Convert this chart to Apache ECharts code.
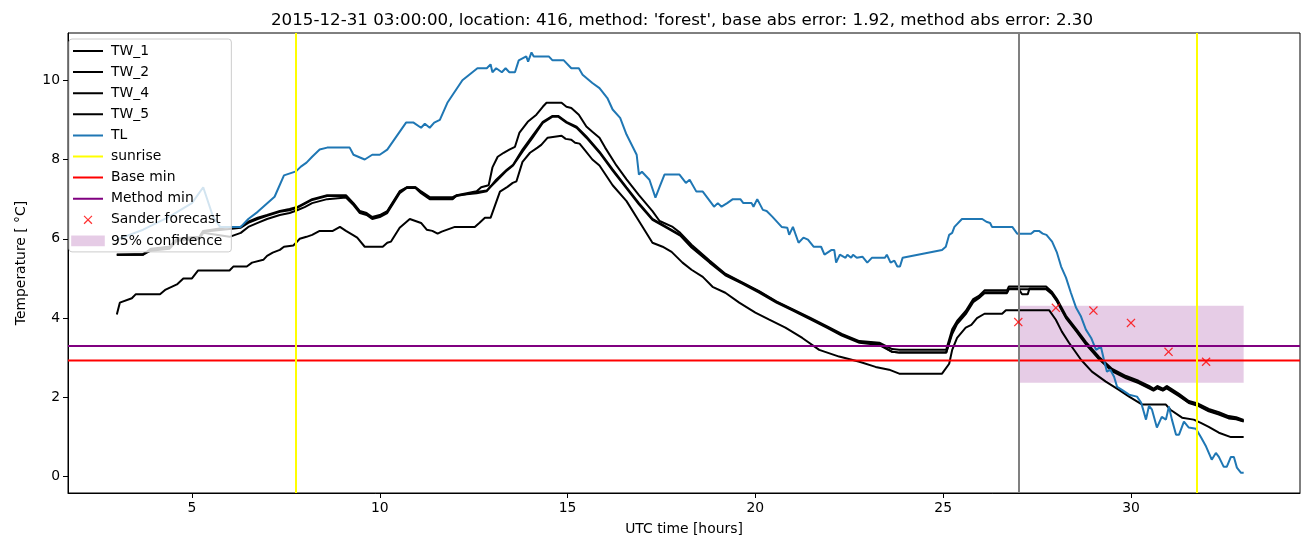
<!DOCTYPE html>
<html>
<head>
<meta charset="utf-8">
<script src="https://cdn.jsdelivr.net/npm/echarts@6/dist/echarts.min.js"></script>
<style>
  body { margin: 0; background: #fff; }
  #chart { width: 1310px; height: 547px; }
</style>
</head>
<body>
<div id="chart"></div>
<script>
// hours since 2015-12-31 00:00 UTC, temperature in deg C
const tw1 = [[3,5.6],[3.7,5.6],[3.9,5.75],[4.4,5.8],[4.6,6.0],[5.2,6.05],[5.3,6.2],[6.0,6.3],[6.3,6.3],[6.5,6.43],[6.75,6.53],[7.0,6.6],[7.34,6.7],[7.6,6.75],[7.8,6.8],[8.0,6.9],[8.2,7.0],[8.6,7.1],[9.1,7.1],[9.3,6.9],[9.47,6.7],[9.65,6.65],[9.8,6.55],[10.0,6.6],[10.2,6.7],[10.53,7.2],[10.72,7.3],[10.95,7.3],[11.1,7.2],[11.33,7.05],[11.94,7.05],[12.05,7.1],[12.58,7.2],[12.7,7.3],[12.9,7.35],[13.0,7.8],[13.14,8.07],[13.3,8.17],[13.45,8.25],[13.6,8.32],[13.72,8.68],[13.94,8.95],[14.17,9.13],[14.34,9.33],[14.44,9.43],[14.84,9.43],[14.97,9.33],[15.1,9.3],[15.3,9.13],[15.5,8.83],[15.66,8.7],[15.85,8.55],[16.0,8.3],[16.3,7.85],[16.57,7.5],[16.9,7.1],[17.26,6.7],[17.45,6.45],[17.8,6.3],[18.0,6.15],[18.3,5.85],[18.78,5.45],[19.2,5.12],[19.65,4.9],[20.1,4.68],[20.56,4.42],[21.0,4.22],[21.44,4.02],[21.9,3.8],[22.3,3.6],[22.77,3.42],[23.3,3.38],[23.64,3.22],[23.83,3.2],[25.08,3.2],[25.24,3.72],[25.37,3.93],[25.6,4.18],[25.8,4.48],[25.95,4.56],[26.1,4.7],[26.7,4.7],[26.75,4.8],[27.74,4.8],[27.9,4.66],[28.03,4.48],[28.27,4.06],[28.54,3.73],[28.8,3.4],[29.15,3.02],[29.5,2.72],[29.87,2.54],[30.2,2.42],[30.48,2.29],[30.6,2.22],[30.7,2.29],[30.85,2.22],[30.95,2.29],[31.0,2.26],[31.28,2.09],[31.54,1.91],[31.8,1.84],[32.07,1.71],[32.34,1.63],[32.6,1.53],[32.8,1.5],[33.0,1.43]];
const tw2 = [[3,5.6],[3.7,5.6],[3.9,5.7],[4.4,5.75],[4.6,5.95],[5.2,6.0],[5.3,6.15],[6.0,6.05],[6.3,6.15],[6.5,6.3],[6.75,6.4],[7.0,6.5],[7.34,6.6],[7.6,6.65],[7.8,6.72],[8.0,6.8],[8.2,6.9],[8.6,7.0],[9.1,7.04],[9.3,6.85],[9.47,6.65],[9.65,6.6],[9.8,6.5],[10.0,6.55],[10.2,6.65],[10.53,7.15],[10.72,7.28],[10.95,7.28],[11.1,7.15],[11.33,7.0],[11.94,7.0],[12.05,7.1],[12.58,7.15],[12.85,7.2],[13.1,7.49],[13.38,7.74],[13.55,7.87],[13.8,8.25],[14.07,8.6],[14.34,8.95],[14.6,9.1],[14.75,9.1],[14.97,8.95],[15.24,8.83],[15.5,8.58],[15.85,8.2],[16.2,7.75],[16.57,7.3],[16.9,6.9],[17.26,6.5],[17.63,6.3],[18.0,6.1],[18.3,5.8],[18.78,5.42],[19.2,5.1],[19.65,4.89],[20.1,4.67],[20.56,4.41],[21.0,4.21],[21.44,4.0],[21.9,3.78],[22.3,3.58],[22.77,3.4],[23.3,3.35],[23.64,3.15],[23.83,3.13],[25.08,3.13],[25.24,3.65],[25.37,3.88],[25.6,4.14],[25.8,4.44],[25.95,4.52],[26.1,4.65],[26.7,4.65],[26.75,4.75],[27.0,4.75],[27.1,4.6],[27.25,4.6],[27.3,4.75],[27.74,4.75],[27.9,4.62],[28.03,4.44],[28.27,4.02],[28.54,3.69],[28.8,3.36],[29.15,2.98],[29.5,2.68],[29.87,2.5],[30.2,2.38],[30.48,2.25],[30.6,2.18],[30.7,2.25],[30.85,2.18],[30.95,2.25],[31.0,2.22],[31.28,2.05],[31.54,1.87],[31.8,1.8],[32.07,1.67],[32.34,1.59],[32.6,1.49],[32.8,1.47],[33.0,1.4]];
const tw4 = [[3,5.6],[3.7,5.62],[3.9,5.72],[4.4,5.8],[4.6,5.98],[5.2,6.05],[5.3,6.18],[6.0,6.25],[6.3,6.28],[6.5,6.4],[6.75,6.5],[7.0,6.58],[7.34,6.68],[7.6,6.72],[7.8,6.78],[8.0,6.88],[8.2,6.98],[8.6,7.08],[9.1,7.08],[9.3,6.88],[9.47,6.68],[9.65,6.62],[9.8,6.52],[10.0,6.58],[10.2,6.68],[10.53,7.18],[10.72,7.3],[10.95,7.3],[11.1,7.18],[11.33,7.02],[11.94,7.02],[12.05,7.08],[12.58,7.18],[12.85,7.22],[13.1,7.45],[13.38,7.72],[13.55,7.85],[13.8,8.2],[14.07,8.55],[14.34,8.92],[14.6,9.08],[14.75,9.08],[14.97,8.93],[15.24,8.8],[15.5,8.55],[15.85,8.17],[16.2,7.72],[16.57,7.27],[16.9,6.87],[17.26,6.48],[17.63,6.28],[18.0,6.08],[18.3,5.78],[18.78,5.4],[19.2,5.08],[19.65,4.87],[20.1,4.64],[20.56,4.39],[21.0,4.19],[21.44,3.98],[21.9,3.76],[22.3,3.56],[22.77,3.38],[23.3,3.32],[23.64,3.15],[23.83,3.13],[25.08,3.13],[25.24,3.6],[25.37,3.85],[25.6,4.1],[25.8,4.4],[25.95,4.5],[26.1,4.63],[26.7,4.63],[26.75,4.73],[27.74,4.73],[27.9,4.6],[28.03,4.42],[28.27,4.0],[28.54,3.67],[28.8,3.34],[29.15,2.96],[29.5,2.66],[29.87,2.48],[30.2,2.36],[30.48,2.23],[30.6,2.17],[30.7,2.23],[30.85,2.17],[30.95,2.23],[31.0,2.2],[31.28,2.03],[31.54,1.86],[31.8,1.78],[32.07,1.65],[32.34,1.57],[32.6,1.47],[32.8,1.45],[33.0,1.39]];
const tw5 = [[3,4.09],[3.08,4.39],[3.4,4.5],[3.5,4.6],[4.15,4.6],[4.3,4.72],[4.6,4.85],[4.77,5.0],[5.0,5.0],[5.16,5.2],[6.0,5.2],[6.1,5.3],[6.46,5.3],[6.6,5.4],[6.9,5.47],[7.0,5.57],[7.15,5.65],[7.34,5.72],[7.45,5.8],[7.7,5.83],[7.8,5.93],[7.87,6.0],[8.05,6.05],[8.2,6.1],[8.4,6.2],[8.75,6.2],[8.94,6.3],[9.1,6.2],[9.28,6.1],[9.4,6.03],[9.6,5.8],[10.08,5.8],[10.2,5.9],[10.3,5.93],[10.53,6.28],[10.8,6.5],[11.1,6.4],[11.25,6.23],[11.4,6.2],[11.54,6.13],[11.65,6.18],[12.0,6.3],[12.53,6.3],[12.65,6.4],[12.8,6.53],[12.95,6.53],[13.2,7.19],[13.4,7.31],[13.54,7.41],[13.64,7.45],[13.8,7.94],[14.0,8.17],[14.2,8.3],[14.3,8.37],[14.47,8.55],[14.84,8.6],[14.95,8.52],[15.1,8.5],[15.2,8.42],[15.32,8.4],[15.45,8.25],[15.66,8.0],[15.85,7.85],[16.2,7.35],[16.57,6.95],[16.9,6.45],[17.26,5.9],[17.53,5.8],[17.77,5.67],[18.06,5.4],[18.3,5.22],[18.6,5.04],[18.86,4.79],[19.2,4.64],[19.57,4.39],[20.0,4.14],[20.37,3.96],[20.8,3.76],[21.25,3.5],[21.7,3.2],[22.23,3.03],[22.77,2.9],[23.2,2.77],[23.56,2.7],[23.83,2.6],[24.97,2.6],[25.16,2.85],[25.24,3.2],[25.37,3.5],[25.6,3.76],[25.75,3.83],[25.9,4.0],[26.1,4.11],[26.57,4.11],[26.67,4.2],[27.82,4.2],[28.0,3.96],[28.16,3.66],[28.35,3.38],[28.67,2.95],[28.96,2.65],[29.33,2.4],[29.68,2.19],[29.95,2.02],[30.3,1.82],[30.93,1.82],[31.05,1.69],[31.36,1.49],[31.67,1.44],[31.86,1.36],[32.07,1.26],[32.34,1.11],[32.66,1.0],[33.0,1.0]];
const tl = [[3.0,5.98],[3.7,6.23],[4.4,6.56],[5.0,6.9],[5.3,7.3],[5.56,6.56],[5.75,6.3],[6.3,6.3],[6.5,6.5],[6.75,6.68],[7.2,7.06],[7.45,7.6],[7.77,7.7],[7.9,7.82],[8.05,7.92],[8.2,8.07],[8.4,8.25],[8.6,8.3],[9.2,8.3],[9.3,8.12],[9.6,8.0],[9.8,8.12],[10.0,8.12],[10.2,8.25],[10.7,8.93],[10.9,8.93],[11.1,8.8],[11.2,8.9],[11.33,8.8],[11.45,8.93],[11.6,9.0],[11.8,9.43],[12.2,10.0],[12.6,10.3],[12.85,10.3],[12.95,10.4],[13.0,10.2],[13.1,10.3],[13.25,10.2],[13.35,10.3],[13.45,10.2],[13.6,10.2],[13.7,10.5],[13.9,10.6],[13.95,10.47],[14.04,10.7],[14.1,10.6],[14.5,10.6],[14.6,10.5],[14.9,10.5],[15.1,10.3],[15.3,10.3],[15.4,10.14],[15.66,9.93],[15.85,9.8],[16.06,9.55],[16.2,9.26],[16.4,9.05],[16.57,8.63],[16.84,8.12],[16.9,7.62],[16.98,7.69],[17.18,7.49],[17.34,7.04],[17.45,7.31],[17.58,7.62],[17.98,7.62],[18.15,7.41],[18.25,7.49],[18.43,7.19],[18.6,7.19],[18.9,6.81],[19.0,6.9],[19.1,6.81],[19.25,6.9],[19.4,7.0],[19.6,7.0],[19.68,6.9],[19.9,6.9],[19.95,6.81],[20.05,7.0],[20.2,6.73],[20.3,6.7],[20.45,6.56],[20.7,6.3],[20.85,6.28],[20.9,6.1],[21.0,6.3],[21.15,5.9],[21.28,6.03],[21.4,5.98],[21.55,5.8],[21.75,5.8],[21.84,5.6],[22.03,5.72],[22.1,5.72],[22.15,5.4],[22.25,5.6],[22.4,5.52],[22.45,5.6],[22.55,5.52],[22.6,5.6],[22.7,5.52],[22.85,5.55],[22.98,5.4],[23.1,5.52],[23.45,5.52],[23.5,5.6],[23.6,5.4],[23.7,5.45],[23.78,5.3],[23.85,5.3],[23.92,5.52],[24.97,5.72],[25.07,5.8],[25.16,6.1],[25.24,6.15],[25.3,6.3],[25.5,6.5],[26.04,6.5],[26.15,6.43],[26.25,6.4],[26.3,6.3],[26.84,6.3],[26.97,6.13],[27.34,6.13],[27.43,6.2],[27.55,6.2],[27.65,6.13],[27.75,6.1],[27.9,5.93],[28.03,5.65],[28.14,5.3],[28.27,5.02],[28.4,4.64],[28.54,4.26],[28.67,4.04],[28.8,3.71],[28.94,3.5],[29.07,3.2],[29.2,3.28],[29.28,2.95],[29.36,2.65],[29.45,2.7],[29.55,2.52],[29.63,2.27],[29.76,2.19],[29.95,2.07],[30.16,2.02],[30.27,1.87],[30.4,1.44],[30.48,1.79],[30.56,1.69],[30.69,1.24],[30.82,1.51],[30.93,1.44],[31.01,1.77],[31.09,1.44],[31.2,1.06],[31.28,1.06],[31.41,1.39],[31.54,1.24],[31.73,1.21],[31.86,1.0],[32.0,0.76],[32.15,0.43],[32.26,0.6],[32.34,0.5],[32.47,0.25],[32.55,0.25],[32.66,0.5],[32.74,0.5],[32.82,0.23],[32.93,0.1],[33.0,0.1]];

const sunrise = [7.77, 31.76];
const forecastTime = 27;
const baseMin = 2.93;
const methodMin = 3.3;
const sander = [[27,3.9],[28,4.26],[29,4.19],[30,3.88],[31,3.15],[32,2.9]];
const confX = [27, 33];
const confY = [2.37, 4.31];

const xTicks = [5, 10, 15, 20, 25, 30];
const yTicks = [0, 2, 4, 6, 8, 10];
const xRange = [1.7, 34.5];
const yRange = [-0.41, 11.19];

const font = 'DejaVu Sans';
// legend handles, padded with empty points so they keep matplotlib's size
const lineIcon = 'path://M-3,1L-3,1ZM0,0L30,0L30,2L0,2ZM33,1L33,1Z';
const rectIcon = 'path://M-1,0L-1,0ZM0,0L28,0L28,9L0,9ZM29,0L29,0Z';
const crossPath = 'path://M0,1L1,0L5,4L9,0L10,1L6,5L10,9L9,10L5,6L1,10L0,9L4,5Z';
const crossIcon = 'path://M5,-3L5,-3ZM0,1L1,0L5,4L9,0L10,1L6,5L10,9L9,10L5,6L1,10L0,9L4,5ZM5,13L5,13Z';

var chart = echarts.init(document.getElementById('chart'));

const blackLine = (name, data) => ({
  name: name,
  type: 'line',
  data: data,
  symbol: 'none',
  lineStyle: { color: '#000', width: 2 },
  itemStyle: { color: '#000' },
  z: 2
});

var option = {
  animation: false,
  backgroundColor: '#fff',
  title: {
    text: "2015-12-31 03:00:00, location: 416, method: 'forest', base abs error: 1.92, method abs error: 2.30",
    left: 677,
    textAlign: 'center',
    top: 7,
    textStyle: { fontFamily: font, fontSize: 16.7, fontWeight: 'normal', color: '#000' }
  },
  grid: {
    left: 68, right: 10, top: 33, bottom: 54,
    show: true, borderColor: '#000', borderWidth: 1, backgroundColor: 'transparent'
  },
  legend: {
    orient: 'vertical',
    left: 69,
    top: 39,
    padding: [5, 9, 4, 1],
    itemWidth: 36,
    itemHeight: 14,
    itemGap: 7.1,
    backgroundColor: 'rgba(255,255,255,0.8)',
    borderColor: '#cccccc',
    borderWidth: 1,
    borderRadius: 3,
    textStyle: { fontFamily: font, fontSize: 13.9, color: '#000' },
    data: [
      { name: 'TW_1', icon: lineIcon },
      { name: 'TW_2', icon: lineIcon },
      { name: 'TW_4', icon: lineIcon },
      { name: 'TW_5', icon: lineIcon },
      { name: 'TL', icon: lineIcon },
      { name: 'sunrise', icon: lineIcon },
      { name: 'Base min', icon: lineIcon },
      { name: 'Method min', icon: lineIcon },
      { name: 'Sander forecast', icon: crossIcon },
      { name: '95% confidence', icon: rectIcon }
    ]
  },
  xAxis: {
    type: 'value',
    min: xRange[0], max: xRange[1],
    name: 'UTC time [hours]',
    nameLocation: 'middle',
    nameGap: 29,
    nameTextStyle: { fontFamily: font, fontSize: 13.9, color: '#000' },
    axisLine: { onZero: false, lineStyle: { color: '#000', width: 1 } },
    axisTick: { customValues: xTicks, length: 5, lineStyle: { color: '#000' } },
    axisLabel: { customValues: xTicks, margin: 8, fontFamily: font, fontSize: 13.9, color: '#000' },
    splitLine: { show: false }
  },
  yAxis: {
    type: 'value',
    min: yRange[0], max: yRange[1],
    name: 'Temperature [ °C]',
    nameLocation: 'middle',
    nameGap: 40,
    nameTextStyle: { fontFamily: font, fontSize: 13.9, color: '#000' },
    axisLine: { onZero: false, lineStyle: { color: '#000', width: 1 } },
    axisTick: { customValues: yTicks, length: 5, lineStyle: { color: '#000' } },
    axisLabel: { customValues: yTicks, margin: 8, fontFamily: font, fontSize: 13.9, color: '#000' },
    splitLine: { show: false }
  },
  series: [
    {
      name: '95% confidence',
      type: 'line',
      data: [],
      itemStyle: { color: 'rgba(128,0,128,0.2)' },
      lineStyle: { color: 'rgba(128,0,128,0.2)' },
      markArea: {
        silent: true,
        itemStyle: { color: 'rgba(128,0,128,0.2)' },
        data: [[{ coord: [confX[0], confY[0]] }, { coord: [confX[1], confY[1]] }]]
      },
      z: 1
    },
    blackLine('TW_1', tw1),
    blackLine('TW_2', tw2),
    blackLine('TW_4', tw4),
    blackLine('TW_5', tw5),
    {
      name: 'TL',
      type: 'line',
      data: tl,
      symbol: 'none',
      lineStyle: { color: '#1f77b4', width: 2 },
      itemStyle: { color: '#1f77b4' },
      z: 3
    },
    {
      name: 'forecast time',
      type: 'line',
      data: [],
      markLine: {
        silent: true,
        symbol: ['none', 'none'],
        label: { show: false },
        lineStyle: { color: '#808080', type: 'solid', width: 2 },
        data: [{ xAxis: forecastTime }]
      },
      z: 3
    },
    {
      name: 'sunrise',
      type: 'line',
      data: [],
      lineStyle: { color: '#ffff00', width: 2 },
      itemStyle: { color: '#ffff00' },
      markLine: {
        silent: true,
        symbol: ['none', 'none'],
        label: { show: false },
        lineStyle: { color: '#ffff00', type: 'solid', width: 2 },
        data: sunrise.map(function (h) { return { xAxis: h }; })
      },
      z: 4
    },
    {
      name: 'Base min',
      type: 'line',
      data: [[xRange[0], baseMin], [xRange[1], baseMin]],
      symbol: 'none',
      lineStyle: { color: '#ff0000', width: 2 },
      itemStyle: { color: '#ff0000' },
      z: 4
    },
    {
      name: 'Method min',
      type: 'line',
      data: [[xRange[0], methodMin], [xRange[1], methodMin]],
      symbol: 'none',
      lineStyle: { color: '#800080', width: 2 },
      itemStyle: { color: '#800080' },
      z: 4
    },
    {
      name: 'Sander forecast',
      type: 'scatter',
      data: sander,
      symbol: crossPath,
      symbolSize: 9,
      itemStyle: { color: '#ff0000' },
      z: 5
    }
  ]
};

option && chart.setOption(option);
</script>
</body>
</html>
